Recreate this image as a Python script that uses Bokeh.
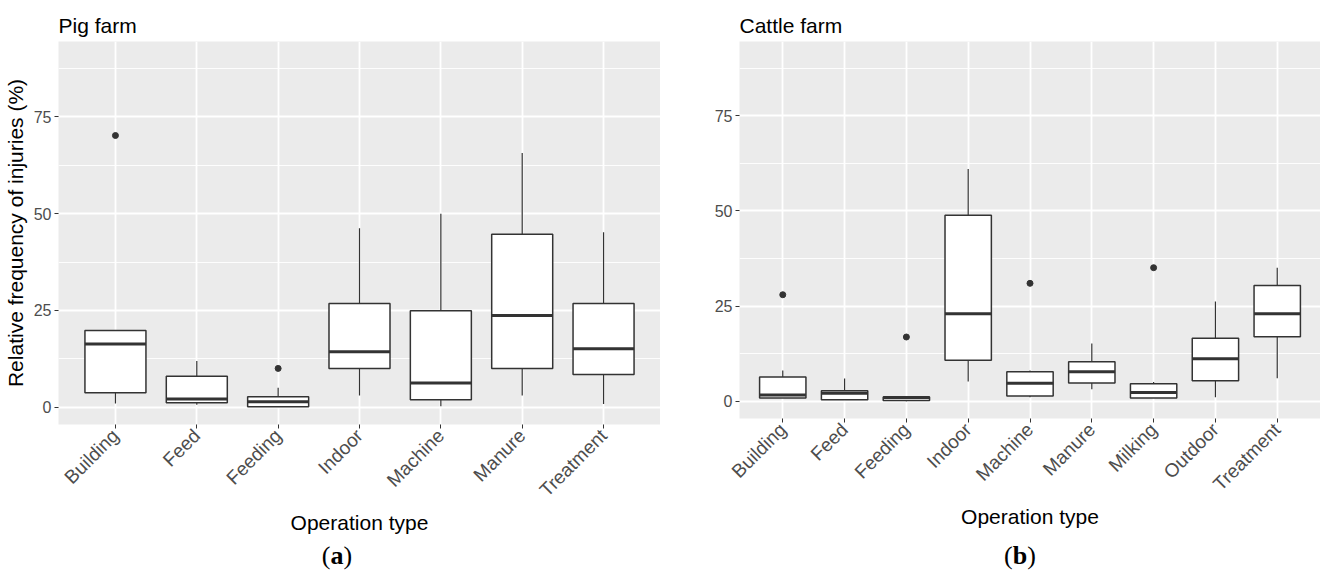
from math import pi
from bokeh.plotting import figure
from bokeh.models import FactorRange, Range1d, FixedTicker, Div, Spacer
from bokeh.layouts import row, column
from bokeh.embed import file_html
from bokeh.resources import INLINE

# ---- data ----
pig_cats = ["Building", "Feed", "Feeding", "Indoor", "Machine", "Manure", "Treatment"]
pig_low = [0.9, 0.6, 0.0, 3.0, 0.2, 3.0, 0.8]
pig_q1 = [3.7, 1.1, 0.1, 10.0, 1.9, 10.0, 8.4]
pig_med = [16.3, 2.1, 1.4, 14.3, 6.2, 23.7, 15.1]
pig_q3 = [19.8, 8.0, 2.7, 26.8, 24.9, 44.7, 26.8]
pig_high = [19.8, 11.9, 5.0, 46.2, 50.0, 65.7, 45.2]
pig_out_cat = ["Building", "Feeding"]
pig_out_val = [70.2, 10.0]

cattle_cats = ["Building", "Feed", "Feeding", "Indoor", "Machine", "Manure", "Milking", "Outdoor", "Treatment"]
cattle_low = [0.9, 0.4, 0.0, 5.2, 1.05, 3.2, 0.9, 1.05, 6.1]
cattle_q1 = [0.9, 0.4, 0.2, 10.8, 1.4, 4.85, 0.9, 5.4, 17.0]
cattle_med = [1.7, 2.1, 1.0, 23.0, 4.75, 7.75, 2.3, 11.2, 23.0]
cattle_q3 = [6.4, 2.8, 1.15, 48.9, 7.75, 10.4, 4.6, 16.6, 30.4]
cattle_high = [8.1, 6.0, 1.15, 61.0, 8.1, 15.2, 5.1, 26.2, 35.1]
cattle_out_cat = ["Building", "Feeding", "Machine", "Milking"]
cattle_out_val = [28.0, 16.9, 31.0, 35.1]

y_ticks = [0, 25, 50, 75]
y_minor = [12.5, 37.5, 62.5, 87.5]
y_lo, y_hi = -4.5, 94.5

FONT = "Liberation Sans"


def panel(title, cats, low, q1, med, q3, high, out_cat, out_val,
          frame_w, frame_h, left_border, standoff, ylabel):
    p = figure(x_range=FactorRange(*cats, range_padding=0.2, range_padding_units="absolute"),
               y_range=Range1d(y_lo, y_hi),
               frame_width=frame_w, frame_height=frame_h,
               min_border_left=left_border, min_border_right=0,
               min_border_top=0, min_border_bottom=0,
               output_backend="svg", toolbar_location=None, title=title)
    p.background_fill_color = "#EBEBEB"
    p.border_fill_color = "white"
    p.outline_line_color = None

    p.title.text_font = FONT
    p.title.text_font_size = "21px"
    p.title.text_font_style = "normal"
    p.title.text_color = "black"
    p.title.offset = 0
    p.title.standoff = standoff

    p.yaxis.ticker = FixedTicker(ticks=y_ticks, minor_ticks=y_minor)
    p.xgrid.grid_line_color = "white"
    p.xgrid.grid_line_width = 1.8
    p.ygrid.grid_line_color = "white"
    p.ygrid.grid_line_width = 1.8
    p.ygrid.minor_grid_line_color = "white"
    p.ygrid.minor_grid_line_width = 0.9

    for ax in (p.xaxis, p.yaxis):
        ax.axis_line_color = None
        ax.major_tick_line_color = "#333333"
        ax.major_tick_line_width = 1
        ax.major_tick_out = 4
        ax.major_tick_in = 0
        ax.minor_tick_line_color = None
        ax.major_label_text_font = FONT
        ax.major_label_text_color = "#4D4D4D"
        ax.axis_label_text_font = FONT
        ax.axis_label_text_font_size = "21px"
        ax.axis_label_text_font_style = "normal"
        ax.axis_label_text_color = "black"
    p.yaxis.major_label_text_font_size = "16px"
    p.xaxis.major_label_text_font_size = "19px"
    p.xaxis.major_label_orientation = pi / 4
    p.xaxis.major_label_standoff = 4
    p.xaxis.axis_label = "Operation type"
    p.xaxis.axis_label_standoff = 0
    p.yaxis.major_label_standoff = 3
    if ylabel:
        p.yaxis.axis_label = ylabel
        p.yaxis.axis_label_standoff = 4

    # whiskers
    p.segment(x0=cats, y0=q3, x1=cats, y1=high, line_color="#333333", line_width=1.2)
    p.segment(x0=cats, y0=q1, x1=cats, y1=low, line_color="#333333", line_width=1.2)
    # boxes
    p.vbar(x=cats, bottom=q1, top=q3, width=0.75, fill_color="white",
           line_color="#333333", line_width=1.5)
    # medians
    p.vbar(x=cats, bottom=med, top=med, width=0.75, fill_color=None,
           line_color="#333333", line_width=3)
    # outliers
    p.scatter(x=out_cat, y=out_val, size=6, color="#333333")
    return p


p1 = panel("Pig farm", pig_cats, pig_low, pig_q1, pig_med, pig_q3, pig_high,
           pig_out_cat, pig_out_val, 602, 383, 50, 10, "Relative frequency of injuries (%)")
p2 = panel("Cattle farm", cattle_cats, cattle_low, cattle_q1, cattle_med, cattle_q3,
           cattle_high, cattle_out_cat, cattle_out_val, 581, 377, 79, 9, None)

cap_style = {"font-family": "Liberation Serif", "font-size": "26px", "color": "black",
             "text-align": "center", "line-height": "28px"}
d1 = Div(text="(<b>a</b>)", width=652, height=28,
         styles=dict(cap_style, **{"padding-left": "12px"}))
d2 = Div(text="(<b>b</b>)", width=660, height=28,
         styles=dict(cap_style, **{"padding-left": "46px"}))

layout = column(Spacer(height=6), row(p1, p2), row(d1, d2), spacing=0)

open("out.html", "w").write(file_html(layout, INLINE))
